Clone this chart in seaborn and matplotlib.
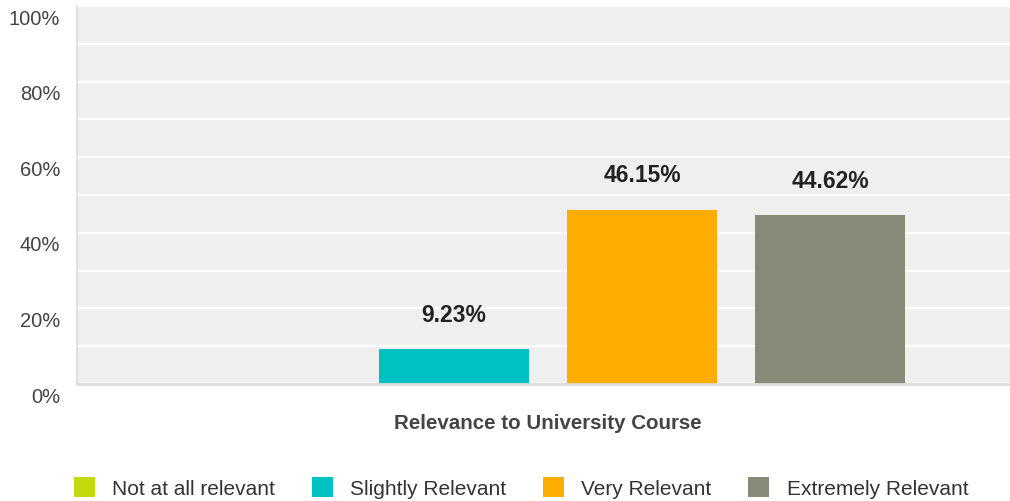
import pandas as pd
import matplotlib.pyplot as plt
import matplotlib.transforms as mtransforms
import seaborn as sns

# data

group = ['Relevance to University Course']
categories = ['Not at all relevant', 'Slightly Relevant', 'Very Relevant', 'Extremely Relevant']
values = [0.0, 9.23, 46.15, 44.62]
colors = ['#c6d90c', '#00c1c1', '#ffad00', '#878a76']

df = pd.DataFrame({
    'group': group * len(categories),
    'category': categories,
    'value': values,
})

sns.set_style('white')
plt.rcParams['font.family'] = ['Liberation Sans', 'DejaVu Sans']

fig = plt.figure(figsize=(10.1, 5.02), dpi=100)
ax = fig.add_axes([0.0762, 0.233, 0.9238, 0.753])
ax.set_facecolor('#efefef')

sns.barplot(data=df, x='group', y='value', hue='category', hue_order=categories,
            palette=colors, width=0.806, gap=0.2, saturation=1, linewidth=0,
            edgecolor='none', ax=ax)

# value labels, skip empty bars
for cont, v in zip(ax.containers, values):
    ax.bar_label(cont, labels=[f'{v:.2f}%' if v > 0 else ''], padding=17,
                 fontsize=16.5, fontweight='bold', color='#222222')

ax.set_ylim(0, 100)
ax.set_xlim(-0.5048, 0.4952)
ax.set_yticks(range(0, 101, 20))
ax.set_yticks(range(10, 100, 20), minor=True)
ax.set_yticklabels([f'{t}%' for t in range(0, 101, 20)])
ax.yaxis.grid(True, which='both', color='white', lw=1.6)
ax.set_axisbelow(True)
ax.tick_params(axis='y', which='both', length=0, pad=12, labelsize=14.5, labelcolor='#444444')
ax.tick_params(axis='x', length=0, pad=21, labelsize=14.8, labelcolor='#444444')
for lab in ax.get_xticklabels():
    lab.set_fontweight('bold')

# shift y labels down a bit like the original
off = mtransforms.ScaledTranslation(0, -0.1, fig.dpi_scale_trans)
for lab in ax.get_yticklabels():
    lab.set_transform(lab.get_transform() + off)

ax.set_xlabel('')
ax.set_ylabel('')
for s in ['top', 'right']:
    ax.spines[s].set_visible(False)
ax.spines['left'].set_color('#e0e0e0')
ax.spines['left'].set_linewidth(1.5)
ax.spines['bottom'].set_color('#dcdcdc')
ax.spines['bottom'].set_linewidth(2)

sns.move_legend(ax, 'center', bbox_to_anchor=(0.516, 0.026), bbox_transform=fig.transFigure,
                ncol=4, frameon=False, title=None, fontsize=15, handlelength=1.0, handleheight=1.1,
                columnspacing=1.75, handletextpad=0.85, borderpad=0)
for t in ax.get_legend().get_texts():
    t.set_color('#333333')

plt.savefig('out.png', dpi=100)
